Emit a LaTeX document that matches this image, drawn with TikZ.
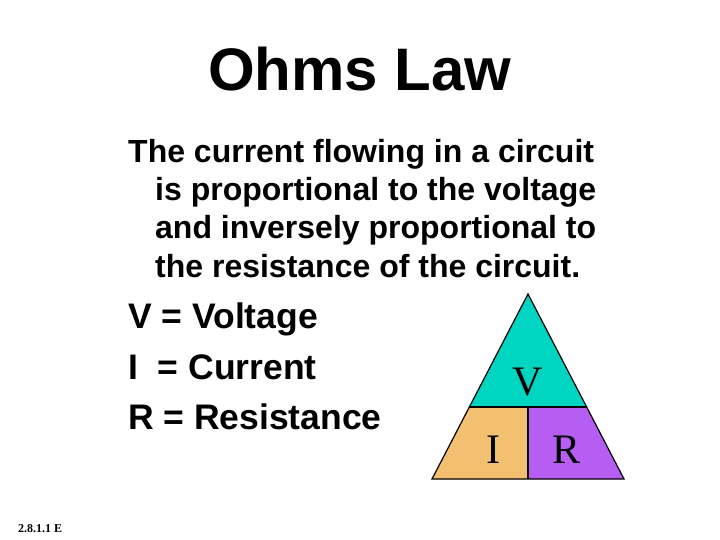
\documentclass[tikz,border=0pt]{standalone}
\usepackage{fontspec}
\setmainfont{Liberation Sans}
\newfontfamily\serifletters{Liberation Serif}
\usetikzlibrary{positioning}
\definecolor{tealV}{RGB}{0,213,194}
\definecolor{orangeI}{RGB}{243,191,112}
\definecolor{purpleR}{RGB}{182,94,242}
\tikzset{bodyline/.style = {anchor=base west, inner sep=0pt,
                            font=\fontsize{32}{38}\selectfont\bfseries}}
\tikzset{keyline/.style = {anchor=base west, inner sep=0pt,
                           font=\fontsize{35.5}{40}\selectfont\bfseries}}
\tikzset{letter/.style = {anchor=base, inner sep=0pt,
                          font=\fontsize{42}{44}\selectfont\serifletters}}

\begin{document}
\begin{tikzpicture}[x=1pt,y=-1pt]
	\useasboundingbox (0,0) rectangle (720,540);
	\node [anchor=base, inner sep=0pt, font=\fontsize{60}{64}\selectfont\bfseries]
		(title) at (360,91) {Ohms Law};
	\node [bodyline] (line1) at (128,163) {The current flowing in a circuit};
	\node [bodyline] (line2) at (155,201) {is proportional to the voltage};
	\node [bodyline] (line3) at (155,239) {and inversely proportional to};
	\node [bodyline] (line4) at (155,277) {the resistance of the circuit.};
	\node [keyline] (keyV) at (128,328) {V = Voltage};
	\node [keyline] (keyI) at (128,379) {I\ \ = Current};
	\node [keyline] (keyR) at (128,429) {R = Resistance};
	% the triangle
	\coordinate (apex) at (528,294);
	\coordinate (bl) at (432,479);
	\coordinate (br) at (624,479);
	\coordinate (ml) at (469,407);
	\coordinate (mr) at (587,407);
	\coordinate (mm) at (528,407);
	\coordinate (bm) at (528,479);
	\fill [tealV] (apex) -- (ml) -- (mr) -- cycle;
	\fill [orangeI] (ml) -- (mm) -- (bm) -- (bl) -- cycle;
	\fill [purpleR] (mm) -- (mr) -- (br) -- (bm) -- cycle;
	\draw [line width=1.2pt, line join=miter] (apex) -- (bl) -- (br) -- cycle;
	\draw [line width=1.2pt] (ml) -- (mr);
	\draw [line width=1.2pt] (mm) -- (bm);
	\node [letter] (V) at (528,395) {V};
	\node [letter] (I) at (493,463) {I};
	\node [letter] (R) at (566,463) {R};
	\node [anchor=base west, inner sep=0pt, font=\fontsize{12}{13}\selectfont\serifletters\bfseries]
		(code) at (18,532) {2.8.1.1 E};
\end{tikzpicture}
\end{document}
